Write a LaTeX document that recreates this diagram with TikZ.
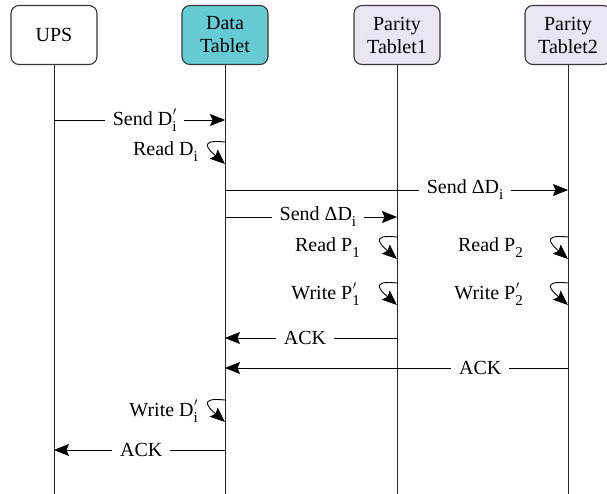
\documentclass[tikz,border=0pt]{standalone}
\usepackage{fontspec}
\setmainfont{Liberation Serif}
\usetikzlibrary{arrows.meta}
\definecolor{datafill}{RGB}{102,203,212}
\definecolor{parfill}{RGB}{234,229,240}
\definecolor{edgegray}{RGB}{55,55,55}
\newcommand\lowsub[1]{\raisebox{-0.3em}{\fontsize{15}{15}\selectfont #1}}
\newcommand\Sb[2]{#1\lowsub{#2}}
\newcommand\Sp[2]{#1\rlap{\raisebox{0.5em}{\fontsize{12}{12}\selectfont\kern0.5pt$\prime$}}\lowsub{#2}}
\begin{document}
\begin{tikzpicture}[x=1pt,y=-1pt,
  actor/.style={draw=edgegray, line width=1.1pt, rounded corners=8pt,
    minimum width=86pt, minimum height=59pt, align=center, inner sep=2pt,
    font=\fontsize{20}{23}\selectfont},
  life/.style={draw=black!85, line width=0.9pt},
  msg/.style={draw=black, line width=0.9pt},
  arr/.style={msg, -{Stealth[length=15pt,width=12pt,inset=2.5pt]}},
  lbl/.style={fill=white, inner xsep=8pt, inner ysep=2pt, font=\fontsize{20}{22}\selectfont},
  llbl/.style={anchor=east, inner sep=0pt, font=\fontsize{20}{22}\selectfont}]
\useasboundingbox (0,0) rectangle (607,494);
% actors
\node[actor, fill=white] (ups) at (54,35) {UPS};
\node[actor, fill=datafill] (data) at (225,35) {Data\\Tablet};
\node[actor, fill=parfill] (p1) at (397,35) {Parity\\Tablet1};
\node[actor, fill=parfill] (p2) at (568,35) {Parity\\Tablet2};
% lifelines
\draw[life] (ups.south) -- (ups.south |- 0,494);
\draw[life] (data.south) -- (data.south |- 0,494);
\draw[life] (p1.south) -- (p1.south |- 0,494);
\draw[life] (p2.south) -- (p2.south |- 0,494);
% messages
\draw[arr] (ups |- 0,120) -- node[lbl, pos=0.53] {Send \Sp{D}{i}} (data |- 0,120);
\node[llbl] (rd) at (198,152) {Read \Sb{D}{i}};
\draw[arr] (data |- 0,142) .. controls +(-28,-3) and +(-16,-14) .. (data |- 0,164);
\draw[arr] (data |- 0,190) -- node[lbl, pos=0.70] {Send Δ\Sb{D}{i}} (p2 |- 0,190);
\draw[arr] (data |- 0,217) -- node[lbl, pos=0.54] {Send Δ\Sb{D}{i}} (p1 |- 0,217);
\node[llbl] (rp1) at (360,248) {Read \Sb{P}{1}};
\draw[arr] (p1 |- 0,237) .. controls +(-28,-3) and +(-16,-14) .. (p1 |- 0,259);
\node[llbl] (rp2) at (523,248) {Read \Sb{P}{2}};
\draw[arr] (p2 |- 0,237) .. controls +(-28,-3) and +(-16,-14) .. (p2 |- 0,259);
\node[llbl] (wp1) at (360,294) {Write \Sp{P}{1}};
\draw[arr] (p1 |- 0,283) .. controls +(-28,-3) and +(-16,-14) .. (p1 |- 0,305);
\node[llbl] (wp2) at (523,294) {Write \Sp{P}{2}};
\draw[arr] (p2 |- 0,283) .. controls +(-28,-3) and +(-16,-14) .. (p2 |- 0,305);
\draw[arr] (p1 |- 0,338) -- node[lbl, pos=0.535] {ACK} (data |- 0,338);
\draw[arr] (p2 |- 0,368) -- node[lbl, pos=0.256] {ACK} (data |- 0,368);
\node[llbl] (wd) at (198,411) {Write \Sp{D}{i}};
\draw[arr] (data |- 0,400) .. controls +(-28,-3) and +(-16,-14) .. (data |- 0,422);
\draw[arr] (data |- 0,450) -- node[lbl, pos=0.49] {ACK} (ups |- 0,450);
\end{tikzpicture}
\end{document}
